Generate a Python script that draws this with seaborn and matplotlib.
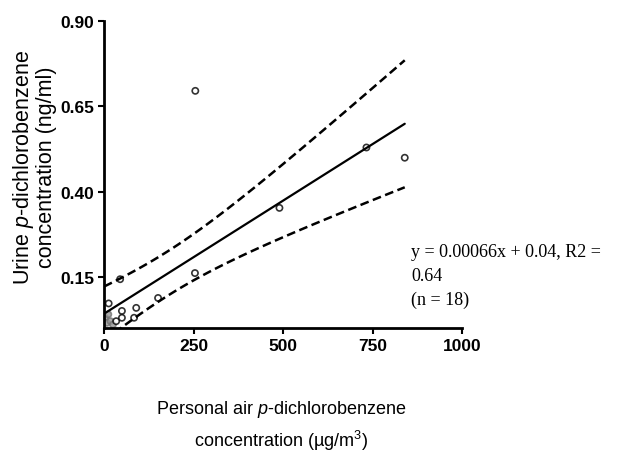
import numpy as np
import pandas as pd
import matplotlib
matplotlib.use("Agg")
import matplotlib.pyplot as plt
import seaborn as sns

# personal air vs urine p-DCB
air_conc = [13, 3, 8, 12, 18, 25, 34, 45, 50, 50, 84, 90, 151, 254, 255, 490, 733, 840]
urine_conc = [0.072, 0.03, 0.015, 0.04, 0.02, 0.01, 0.02, 0.143, 0.05, 0.03,
              0.030, 0.059, 0.088, 0.161, 0.695, 0.352, 0.529, 0.499]
# the overlapping points near the origin print as a grey blob
crowded = [False, True, True, True, True, True, False, False, False, False,
           False, False, False, False, False, False, False, False]
x_ticks = [0, 250, 500, 750, 1000]
y_ticks = [0.15, 0.40, 0.65, 0.90]
fit_text = ["y = 0.00066x + 0.04, R2 =", "0.64", "(n = 18)"]

df = pd.DataFrame({"air": air_conc, "urine": urine_conc, "crowded": crowded})

sns.set_style("ticks", {"axes.edgecolor": "black", "text.color": "black",
                        "xtick.color": "black", "ytick.color": "black"})
plt.rcParams["font.family"] = ["Liberation Sans", "DejaVu Sans"]
plt.rcParams["mathtext.fontset"] = "custom"
plt.rcParams["mathtext.rm"] = "Liberation Sans"
plt.rcParams["mathtext.it"] = "Liberation Sans:italic"

fig = plt.figure(figsize=(6.21, 4.56), dpi=100)
ax = fig.add_axes([0.1675, 0.2785, 0.5765, 0.6735])

face = ["0.6" if c else "white" for c in df["crowded"]]
edge = ["0.45" if c else "black" for c in df["crowded"]]
sns.regplot(data=df, x="air", y="urine", ci=None, ax=ax,
            scatter_kws=dict(s=20, facecolors=face, edgecolors=edge, linewidths=1.2),
            line_kws=dict(color="black", lw=1.6))

# 95% confidence band of the fitted line
x = df["air"].to_numpy(float)
y = df["urine"].to_numpy(float)
n = len(x)
slope, intercept = np.polyfit(x, y, 1)
resid = y - (slope * x + intercept)
s = np.sqrt(np.sum(resid ** 2) / (n - 2))
sxx = np.sum((x - x.mean()) ** 2)
xs = np.linspace(0, x.max(), 100)
se = s * np.sqrt(1 / n + (xs - x.mean()) ** 2 / sxx)
t = 2.12
band = pd.DataFrame({"x": xs, "upper": slope * xs + intercept + t * se,
                     "lower": slope * xs + intercept - t * se})
for col in ["upper", "lower"]:
    sns.lineplot(data=band, x="x", y=col, ax=ax, color="black", lw=1.8,
                 linestyle=(0, (3.5, 1.8)))

ax.set_xlim(0, 1000)
ax.set_ylim(0, 0.9)
ax.set_xticks(x_ticks)
ax.set_xticklabels([str(v) for v in x_ticks])
ax.set_yticks(y_ticks)
ax.set_yticklabels(["%.2f" % v for v in y_ticks])
for lab in ax.get_xticklabels() + ax.get_yticklabels():
    lab.set_fontweight("bold")
    lab.set_fontsize(12.5)
ax.tick_params(axis="both", width=1.5, length=4, pad=3)
sns.despine(ax=ax)
for side in ["left", "bottom"]:
    ax.spines[side].set_linewidth(2)

ax.set_xlabel("")
ax.set_ylabel("")
fig.text(0.055, 0.634, "Urine $\\it{p}$-dichlorobenzene\nconcentration (ng/ml)",
         rotation=90, ha="center", va="center", fontsize=15.5, linespacing=1.0)
fig.text(0.4525, 0.066, "Personal air $\\it{p}$-dichlorobenzene\nconcentration (µg/m$^3$)",
         ha="center", va="center", fontsize=13, linespacing=1.45)

for i, line in enumerate(fit_text):
    fig.text(0.662, 0.447 - i * 0.0525, line, ha="left", va="center",
             fontsize=13, family=["Liberation Serif", "DejaVu Serif"])

fig.savefig("out.png", dpi=100)
